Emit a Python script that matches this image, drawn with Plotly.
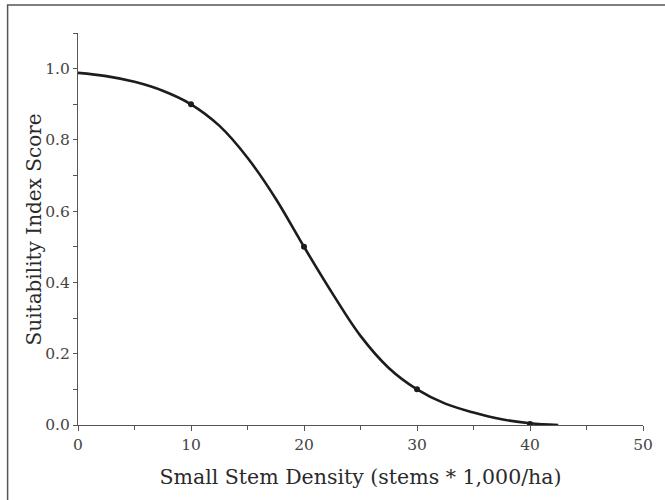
import plotly.graph_objects as go

# Curve
curve_x = [0, 2.5, 5, 7.5, 10, 12.5, 15, 17.5, 20, 22.5, 25, 27.5, 30, 32.5, 35, 37.5, 40, 42.5]
curve_y = [0.988, 0.979, 0.963, 0.938, 0.90, 0.84, 0.75, 0.635, 0.50, 0.37, 0.25, 0.16, 0.10, 0.06, 0.035, 0.016, 0.005, 0.0]

# Marked points
point_x = [10, 20, 30, 40]
point_y = [0.90, 0.50, 0.10, 0.003]

x_ticks = [0, 10, 20, 30, 40, 50]
y_ticks = [0.0, 0.2, 0.4, 0.6, 0.8, 1.0]

FONT = "DejaVu Serif"
INK = "#1c1c1c"
GRAY = "#555555"

fig = go.Figure()
fig.add_trace(go.Scatter(x=curve_x, y=curve_y, mode="lines",
                         line=dict(color=INK, width=2.6, shape="spline", smoothing=1.0),
                         hoverinfo="skip", showlegend=False))
fig.add_trace(go.Scatter(x=point_x, y=point_y, mode="markers",
                         marker=dict(color=INK, size=6),
                         showlegend=False))

fig.update_layout(
    width=665, height=500,
    margin=dict(l=78, r=17, t=33, b=75),
    paper_bgcolor="white", plot_bgcolor="white",
    font=dict(family=FONT, color=GRAY),
    showlegend=False,
)
fig.update_xaxes(
    range=[0, 50], tickvals=x_ticks, ticktext=[str(v) for v in x_ticks],
    showgrid=False, zeroline=False, showline=True, linecolor=GRAY, linewidth=1.2,
    ticks="outside", ticklen=5, tickcolor=GRAY, tickwidth=1,
    minor=dict(ticks="outside", ticklen=4, tickcolor=GRAY, dtick=5, tick0=0, showgrid=False),
    tickfont=dict(family=FONT, size=15.5, color="#444444"),
    title=dict(text="Small Stem Density (stems * 1,000/ha)",
               font=dict(family=FONT, size=20.5, color="#2a2a2a"), standoff=16),
)
fig.update_yaxes(
    range=[0, 1.1], tickvals=y_ticks, ticktext=[f"{v:.1f}" for v in y_ticks],
    showgrid=False, zeroline=False, showline=True, linecolor=GRAY, linewidth=1.2,
    ticks="outside", ticklen=4, tickcolor=GRAY, tickwidth=1,
    minor=dict(ticks="outside", ticklen=4, tickcolor=GRAY, dtick=0.1, tick0=0, showgrid=False),
    tickfont=dict(family=FONT, size=15.5, color="#444444"),
)

fig.add_annotation(text="Suitability Index Score", xref="paper", yref="paper",
                   x=(34 - 78) / 570, y=0.5, xanchor="center", yanchor="middle",
                   textangle=-90, showarrow=False,
                   font=dict(family=FONT, size=20, color="#2a2a2a"))

# Outer frame (cropped at right and bottom in the reference)
fig.add_shape(type="rect", xref="paper", yref="paper",
              x0=-0.1246, y0=-0.4, x1=1.2, y1=1.0714,
              line=dict(color="#555555", width=1.5), fillcolor="rgba(0,0,0,0)", layer="above")

fig.write_html("out.html")
